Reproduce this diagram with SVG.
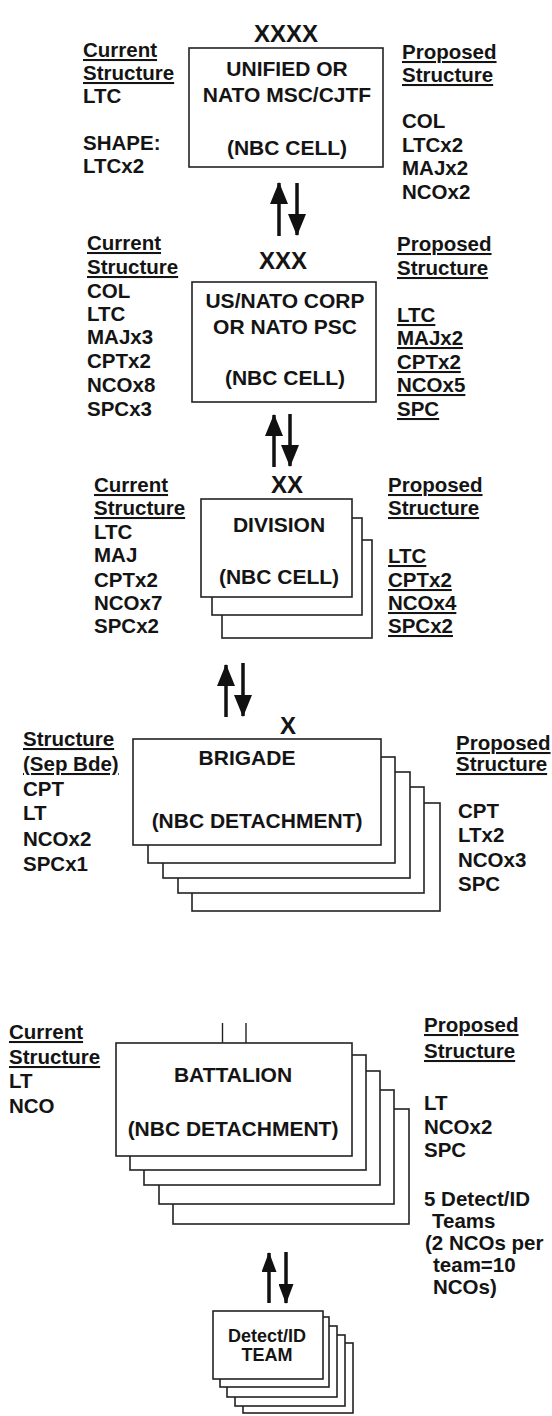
<svg xmlns="http://www.w3.org/2000/svg" width="552" height="1416" viewBox="0 0 552 1416">
<style>
text{font-family:'Liberation Sans',Arial,sans-serif;font-weight:bold;fill:#141414}
.s{font-size:20.5px}
.b{font-size:21px;text-anchor:middle}
.e{font-size:24px;text-anchor:middle}
.t{font-size:18px;text-anchor:middle}
.u{text-decoration:underline}
.box{fill:#fff;stroke:#222;stroke-width:1.6}
.sh{stroke:#111;stroke-width:3.5;fill:none}
.ln{stroke:#222;stroke-width:1.4;fill:none}
</style>
<defs>
<marker id="ah" markerUnits="userSpaceOnUse" markerWidth="22" markerHeight="18" refX="21" refY="9" orient="auto"><path d="M0,0 L22,9 L0,18 z" fill="#111"/></marker>
<marker id="as" markerUnits="userSpaceOnUse" markerWidth="20" markerHeight="15" refX="19" refY="7.5" orient="auto"><path d="M0,0 L20,7.5 L0,15 z" fill="#111"/></marker>
</defs>
<rect width="552" height="1416" fill="#fff"/>

<g id="connectors">
<line class="sh" x1="279" y1="236" x2="279" y2="183" marker-end="url(#ah)"/>
<line class="sh" x1="297" y1="183" x2="297" y2="235" marker-end="url(#ah)"/>
<line class="sh" x1="274" y1="467" x2="274" y2="415" marker-end="url(#ah)"/>
<line class="sh" x1="290" y1="414" x2="290" y2="466" marker-end="url(#ah)"/>
<line class="sh" x1="226" y1="717" x2="226" y2="665" marker-end="url(#ah)"/>
<line class="sh" x1="243" y1="663" x2="243" y2="716" marker-end="url(#ah)"/>
<line class="ln" x1="222.5" y1="1023" x2="222.5" y2="1043"/>
<line class="ln" x1="246" y1="1023" x2="246" y2="1043"/>
<line class="sh" x1="269" y1="1303" x2="269" y2="1253" marker-end="url(#as)"/>
<line class="sh" x1="286" y1="1252" x2="286" y2="1303" marker-end="url(#as)"/>
</g>

<g id="n-unified">
<text class="e" x="286" y="42">XXXX</text>
<rect class="box" x="189" y="48" width="194" height="119"/>
<text class="b" x="287" y="76">UNIFIED OR</text>
<text class="b" x="287" y="102">NATO MSC/CJTF</text>
<text class="b" x="287" y="155">(NBC CELL)</text>
<text class="s" x="83"><tspan class="u" x="83" y="57">Current</tspan><tspan class="u" x="83" y="80">Structure</tspan><tspan x="83" y="103">LTC</tspan><tspan x="83" y="150">SHAPE:</tspan><tspan x="83" y="173">LTCx2</tspan></text>
<text class="s" x="402"><tspan class="u" x="402" y="59">Proposed</tspan><tspan class="u" x="402" y="82">Structure</tspan><tspan x="402" y="128">COL</tspan><tspan x="402" y="152">LTCx2</tspan><tspan x="402" y="175">MAJx2</tspan><tspan x="402" y="199">NCOx2</tspan></text>
</g>

<g id="n-corps">
<text class="e" x="283" y="269">XXX</text>
<rect class="box" x="192" y="282" width="184" height="120"/>
<text class="b" x="285" y="308">US/NATO CORP</text>
<text class="b" x="285" y="334">OR NATO PSC</text>
<text class="b" x="285" y="385">(NBC CELL)</text>
<text class="s"><tspan class="u" x="87" y="250">Current</tspan><tspan class="u" x="87" y="274">Structure</tspan><tspan x="87" y="298">COL</tspan><tspan x="87" y="321">LTC</tspan><tspan x="87" y="344">MAJx3</tspan><tspan x="87" y="368">CPTx2</tspan><tspan x="87" y="392">NCOx8</tspan><tspan x="87" y="416">SPCx3</tspan></text>
<text class="s"><tspan class="u" x="397" y="251">Proposed</tspan><tspan class="u" x="397" y="275">Structure</tspan><tspan class="u" x="397" y="322">LTC</tspan><tspan class="u" x="397" y="345">MAJx2</tspan><tspan class="u" x="397" y="369">CPTx2</tspan><tspan class="u" x="397" y="392">NCOx5</tspan><tspan class="u" x="397" y="416">SPC</tspan></text>
</g>

<g id="n-division">
<text class="e" x="287" y="493">XX</text>
<rect class="box" x="222" y="540" width="150" height="98"/>
<rect class="box" x="212" y="518" width="150" height="97"/>
<rect class="box" x="201" y="499" width="151" height="98"/>
<text class="b" x="279" y="532">DIVISION</text>
<text class="b" x="279" y="584">(NBC CELL)</text>
<text class="s"><tspan class="u" x="94" y="492">Current</tspan><tspan class="u" x="94" y="515">Structure</tspan><tspan x="94" y="539">LTC</tspan><tspan x="94" y="562">MAJ</tspan><tspan x="94" y="587">CPTx2</tspan><tspan x="94" y="610">NCOx7</tspan><tspan x="94" y="633">SPCx2</tspan></text>
<text class="s"><tspan class="u" x="388" y="492">Proposed</tspan><tspan class="u" x="388" y="515">Structure</tspan><tspan class="u" x="388" y="563">LTC</tspan><tspan class="u" x="388" y="587">CPTx2</tspan><tspan class="u" x="388" y="610">NCOx4</tspan><tspan class="u" x="388" y="633">SPCx2</tspan></text>
</g>

<g id="n-brigade">
<text class="e" x="288" y="734">X</text>
<rect class="box" x="192" y="803" width="248" height="108"/>
<rect class="box" x="178" y="787" width="246" height="106"/>
<rect class="box" x="163" y="772" width="247" height="106"/>
<rect class="box" x="148" y="757" width="247" height="106"/>
<rect class="box" x="133" y="739" width="248" height="106"/>
<text class="b" x="247" y="765">BRIGADE</text>
<text class="b" x="257" y="828">(NBC DETACHMENT)</text>
<text class="s"><tspan class="u" x="23" y="746">Structure</tspan><tspan class="u" x="23" y="771">(Sep Bde)</tspan><tspan x="23" y="796">CPT</tspan><tspan x="23" y="820">LT</tspan><tspan x="23" y="846">NCOx2</tspan><tspan x="23" y="871">SPCx1</tspan></text>
<text class="s"><tspan class="u" x="456" y="750">Proposed</tspan><tspan class="u" x="456" y="771">Structure</tspan><tspan x="458" y="818">CPT</tspan><tspan x="458" y="842">LTx2</tspan><tspan x="458" y="867">NCOx3</tspan><tspan x="458" y="891">SPC</tspan></text>
</g>

<g id="n-battalion">
<rect class="box" x="173" y="1109" width="236" height="115"/>
<rect class="box" x="159" y="1090" width="235" height="114"/>
<rect class="box" x="144" y="1071" width="236" height="114"/>
<rect class="box" x="130" y="1055" width="236" height="115"/>
<rect class="box" x="116" y="1043" width="236" height="113"/>
<text class="b" x="233" y="1082">BATTALION</text>
<text class="b" x="233" y="1136">(NBC DETACHMENT)</text>
<text class="s"><tspan class="u" x="9" y="1039">Current</tspan><tspan class="u" x="9" y="1064">Structure</tspan><tspan x="9" y="1088">LT</tspan><tspan x="9" y="1113">NCO</tspan></text>
<text class="s"><tspan class="u" x="424" y="1032">Proposed</tspan><tspan class="u" x="424" y="1058">Structure</tspan><tspan x="424" y="1110">LT</tspan><tspan x="424" y="1134">NCOx2</tspan><tspan x="424" y="1157">SPC</tspan><tspan x="424" y="1206">5 Detect/ID</tspan><tspan x="432" y="1228">Teams</tspan><tspan x="425" y="1250">(2 NCOs per</tspan><tspan x="433" y="1272">team=10</tspan><tspan x="433" y="1294">NCOs)</tspan></text>
</g>

<g id="n-team">
<rect class="box" x="243" y="1343" width="110" height="70"/>
<rect class="box" x="235" y="1335" width="110" height="71"/>
<rect class="box" x="227" y="1326" width="110" height="71"/>
<rect class="box" x="220" y="1317" width="109" height="70"/>
<rect class="box" x="213" y="1311" width="110" height="68"/>
<text class="t" x="267" y="1342">Detect/ID</text>
<text class="t" x="267" y="1361">TEAM</text>
</g>
</svg>
